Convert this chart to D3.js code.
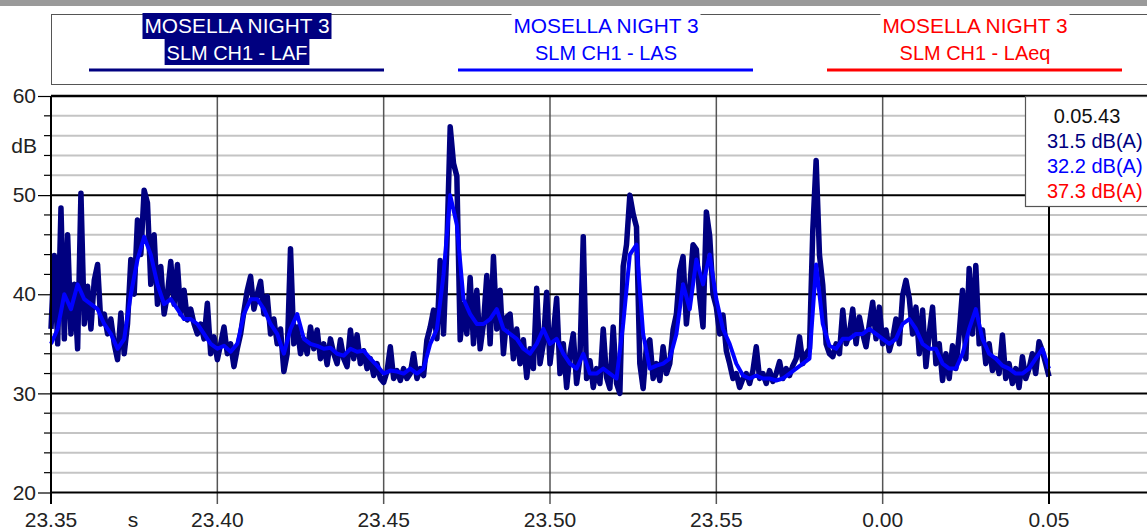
<!DOCTYPE html>
<html lang="en">
<head>
<meta charset="UTF-8">
<title>Mosella Night 3</title>
<script src="https://d3js.org/d3.v7.min.js"></script>
<style>
  body { margin: 0; background: #fff; overflow: hidden; }
  svg text { font-family: "Liberation Sans", Arial, sans-serif; }
</style>
</head>
<body>
<div id="root"></div>
<script>
  // minutes since 23:35
  const xTicks = [0, 5, 10, 15, 20, 25, 30];
  const xTickLabels = ['23.35', '23.40', '23.45', '23.50', '23.55', '0.00', '0.05'];
  const yTicks = [20, 30, 40, 50, 60];
  const yMinorTicks = [22, 24, 26, 28, 32, 34, 36, 38, 42, 44, 46, 48, 52, 54, 56, 58];

  const seriesNames = ['MOSELLA NIGHT 3', 'MOSELLA NIGHT 3', 'MOSELLA NIGHT 3'];
  const seriesChannels = ['SLM CH1 - LAF', 'SLM CH1 - LAS', 'SLM CH1 - LAeq'];
  const seriesColors = ['#000080', '#0000ff', '#ff0000'];

  const cursorLabel = '0.05.43';
  const cursorValues = ['31.5 dB(A)', '32.2 dB(A)', '37.3 dB(A)'];

  // LAF every 0.1 min, LAS every 0.2 min
  const lafStep = 0.1;
  const lafValues = [
    36.5, 43.9, 35, 48.7, 35.5, 46, 36, 41, 34.5, 50.2,
    37, 40.8, 36.5, 41.4, 43, 37, 38, 36, 37.5, 35,
    33.4, 38.1, 34, 37, 43.5, 40, 47.5, 44, 50.5, 49.2,
    41, 46, 39, 42.8, 38, 40, 43.3, 39, 43, 38,
    40.4, 37.4, 38.5, 37, 36, 37, 35.5, 39.1, 34, 35.7,
    33.4, 35, 36.7, 34, 35, 32.7, 34.5, 36, 38.3, 40.4,
    41.8, 38.5, 40, 41.3, 38, 39.8, 36, 37.5, 35, 36.5,
    32.2, 34, 44.6, 35, 36.7, 34, 35.5, 34, 36.7, 34.5,
    36.4, 33.5, 35, 32.9, 35.5, 34, 33, 35.4, 33.5, 32.7,
    36.4, 33.5, 35.9, 33, 34.3, 32.5, 33.5, 31.8, 33, 31.5,
    31.1, 32.2, 34.7, 31.5, 32.3, 31.3, 32.5, 31.5, 32, 34,
    31.5, 32.5, 31.8, 35.4, 36.7, 38.4, 35.5, 43.4, 36, 44.8,
    56.9, 53.2, 51.9, 35.4, 39, 36, 41.7, 35, 40.4, 34.5,
    37, 41.9, 35, 43.8, 36.5, 40.4, 34, 37.7, 38, 33.5,
    36.5, 33, 35.4, 31.6, 34.5, 32.5, 40.6, 33, 35, 40.2,
    33, 36, 39.6, 32, 35, 30.6, 34, 36, 31, 33.5,
    45.8, 31.5, 33.3, 30.6, 32.5, 31, 36.5, 31.6, 30.5, 36.7,
    31, 30, 42.8, 45, 50, 48.1, 46.8, 33, 30.5, 34.8,
    35.4, 31.5, 33, 31.3, 34.7, 32, 33, 36.4, 38, 42.4,
    43.8, 37, 40.6, 45, 44.5, 39.7, 36.7, 48.3, 45.9, 40,
    38.7, 36, 37.9, 34.3, 33, 31.5, 32, 30.6, 31.5, 32,
    31, 32.3, 34.7, 31.5, 32, 31, 32.3, 31.2, 32, 33.2,
    31.5, 32.5, 31.8, 32.8, 33.5, 35.7, 33, 34, 34.5, 46.5,
    53.5, 44, 40.9, 35, 34, 33.7, 35, 34, 38.4, 35,
    36, 38.5, 35, 37.7, 36, 34.7, 37, 39.2, 35.5, 38.7,
    35, 36.4, 34.3, 35.5, 37.5, 35, 39.9, 41.4, 39.6, 36,
    38.7, 34, 38.4, 32.7, 36, 38.7, 33, 35, 31.3, 34,
    31.5, 34.8, 32.5, 36, 40.4, 33.5, 42.6, 36, 42.9, 35,
    36.4, 33, 35, 32.3, 33.5, 32, 35.9, 31.5, 33, 31,
    32.5, 30.6, 33.7, 31.5, 32.5, 34, 32, 35.2, 34.3, 33,
    31.7
  ];

  const lasStep = 0.2;
  const lasValues = [
    35, 36.5, 40, 38.5, 41, 39.5, 39, 38.5, 37, 36,
    34.5, 35.5, 40, 43.5, 45.8, 44, 41, 39, 39.5, 38.5,
    37.5, 37.5, 37, 36, 35, 34.5, 34.8, 34.2, 35, 38,
    39.5, 39.5, 38.5, 37, 36, 34, 36.5, 38, 35.5, 35,
    34.8, 34.5, 34.6, 34, 33.8, 34.5, 34.2, 34.3, 33.5, 32.8,
    32, 32.3, 32.2, 32, 32.5, 32, 32.5, 35, 36.5, 42,
    50, 47, 39.5, 38, 37, 37, 37.5, 38.5, 36.5, 36,
    35.5, 34.5, 34, 35, 36.5, 35, 35.5, 34, 33, 32.5,
    34, 32, 32, 32.5, 32, 31.5, 37, 44, 45, 36,
    32.5, 32.8, 33, 33.5, 36, 41, 38.5, 43.5, 41, 44,
    39.5, 36.5, 35, 33, 31.8, 31.5, 31.8, 31.5, 31.5, 31.3,
    31.5, 32, 32.5, 33, 33.5, 43, 37, 34.8, 34.5, 35.5,
    35.5, 36, 36, 36.5, 36, 35.5, 35, 35.5, 37, 37.5,
    36.5, 35, 34.5, 34.5, 33, 32.5, 32.5, 34, 36.5, 38.5,
    35.5, 34, 33.5, 32.8, 32.5, 32, 32, 32.5, 33.5, 34.5,
    32.5
  ];

  const W = 1147, H = 531;
  const svg = d3.select('#root').append('svg').attr('width', W).attr('height', H);

  const x = d3.scaleLinear().domain([0, 30]).range([51, 1049]);
  const y = d3.scaleLinear().domain([20, 60]).range([492.5, 96]);

  // top bar
  svg.append('rect').attr('x', 0).attr('y', 0).attr('width', W).attr('height', 6).attr('fill', '#9a9a9a');

  // legend frame
  svg.append('rect').attr('x', 51.5).attr('y', 14.5).attr('width', W).attr('height', 70)
    .attr('fill', '#fff').attr('stroke', '#555').attr('stroke-width', 1);

  const legendX = [237, 606, 975];
  const legend = svg.append('g');
  seriesNames.forEach((name, i) => {
    const g = legend.append('g');
    const bg = g.append('g');
    const t1 = g.append('text').attr('x', legendX[i]).attr('y', 33).attr('text-anchor', 'middle')
      .attr('font-size', 21).attr('fill', i === 0 ? '#fff' : seriesColors[i]).text(name)
      .attr('textLength', 185).attr('lengthAdjust', 'spacingAndGlyphs');
    const t2 = g.append('text').attr('x', legendX[i]).attr('y', 59.5).attr('text-anchor', 'middle')
      .attr('font-size', 21).attr('fill', i === 0 ? '#fff' : seriesColors[i]).text(seriesChannels[i]);
    const w2 = t2.node().getComputedTextLength();
    t2.attr('textLength', w2 * 0.95).attr('lengthAdjust', 'spacingAndGlyphs');
    [t1, t2].forEach((t, k) => {
      const bb = t.node().getBBox();
      bg.append('rect').attr('x', bb.x - 2).attr('y', k === 0 ? 13 : 39)
        .attr('width', bb.width + 4).attr('height', 26)
        .attr('fill', i === 0 ? seriesColors[0] : '#fff');
    });
    g.append('line').attr('x1', legendX[i] - 148).attr('x2', legendX[i] + 147)
      .attr('y1', 70).attr('y2', 70).attr('stroke', seriesColors[i]).attr('stroke-width', 3);
  });

  // grid
  const grid = svg.append('g');
  grid.selectAll('.minor').data(yMinorTicks).enter().append('line')
    .attr('x1', 51).attr('x2', W).attr('y1', d => y(d)).attr('y2', d => y(d))
    .attr('stroke', '#c4c4c4').attr('stroke-width', 2);
  grid.selectAll('.vgrid').data(xTicks.slice(1, -1)).enter().append('line')
    .attr('x1', d => x(d)).attr('x2', d => x(d)).attr('y1', 96).attr('y2', 504)
    .attr('stroke', '#555').attr('stroke-width', 1.5);
  grid.selectAll('.major').data(yTicks).enter().append('line')
    .attr('x1', 51).attr('x2', W).attr('y1', d => y(d)).attr('y2', d => y(d))
    .attr('stroke', '#000').attr('stroke-width', 2);

  // series
  const lafLine = d3.line().x((d, i) => x(i * lafStep)).y(d => y(d));
  const lasLine = d3.line().x((d, i) => x(i * lasStep)).y(d => y(d));
  svg.append('path').attr('d', lafLine(lafValues)).attr('fill', 'none')
    .attr('stroke', seriesColors[0]).attr('stroke-width', 5.5).attr('stroke-linejoin', 'round');
  svg.append('path').attr('d', lasLine(lasValues)).attr('fill', 'none')
    .attr('stroke', seriesColors[1]).attr('stroke-width', 4).attr('stroke-linejoin', 'round');

  // cursor line at 0.05
  svg.append('line').attr('x1', x(30)).attr('x2', x(30)).attr('y1', 96).attr('y2', 504)
    .attr('stroke', '#000').attr('stroke-width', 2);

  // y axis
  const yAxis = d3.axisLeft(y).tickValues(yTicks).tickSize(13).tickPadding(2).tickFormat(d3.format('d'));
  const ya = svg.append('g').attr('transform', 'translate(51,0)').call(yAxis);
  ya.select('.domain').attr('stroke-width', 2).attr('d', `M0,${y(60)}V504`);
  ya.selectAll('text').attr('font-size', 21).attr('fill', '#222').attr('font-family', '"Liberation Sans", Arial, sans-serif');
  ya.selectAll('.tick line').attr('stroke-width', 1.2);
  svg.append('g').selectAll('line').data(yMinorTicks).enter().append('line')
    .attr('x1', 44).attr('x2', 51).attr('y1', d => y(d)).attr('y2', d => y(d))
    .attr('stroke', '#000').attr('stroke-width', 1.2);
  svg.append('text').attr('x', 37).attr('y', 153).attr('text-anchor', 'end')
    .attr('font-size', 21).attr('fill', '#222').text('dB');

  // x axis labels
  svg.append('g').selectAll('text').data(xTicks).enter().append('text')
    .attr('x', d => x(d)).attr('y', 527).attr('text-anchor', 'middle')
    .attr('font-size', 21).attr('fill', '#222').text((d, i) => xTickLabels[i]);
  svg.append('text').attr('x', 133).attr('y', 527).attr('text-anchor', 'middle')
    .attr('font-size', 21).attr('fill', '#222').text('s');

  // plot top border
  svg.append('line').attr('x1', 51).attr('x2', W).attr('y1', 96).attr('y2', 96)
    .attr('stroke', '#000').attr('stroke-width', 2.5);

  // cursor readout box
  svg.append('rect').attr('x', 1025.5).attr('y', 96.5).attr('width', 140).attr('height', 110)
    .attr('fill', '#fff').attr('stroke', '#555').attr('stroke-width', 1.2);
  svg.append('text').attr('x', 1087).attr('y', 123).attr('text-anchor', 'middle')
    .attr('font-size', 20).attr('fill', '#111').text(cursorLabel);
  cursorValues.forEach((v, i) => {
    svg.append('text').attr('x', 1047).attr('y', 148 + i * 25)
      .attr('font-size', 20).attr('fill', seriesColors[i]).text(v);
  });
</script>
</body>
</html>
